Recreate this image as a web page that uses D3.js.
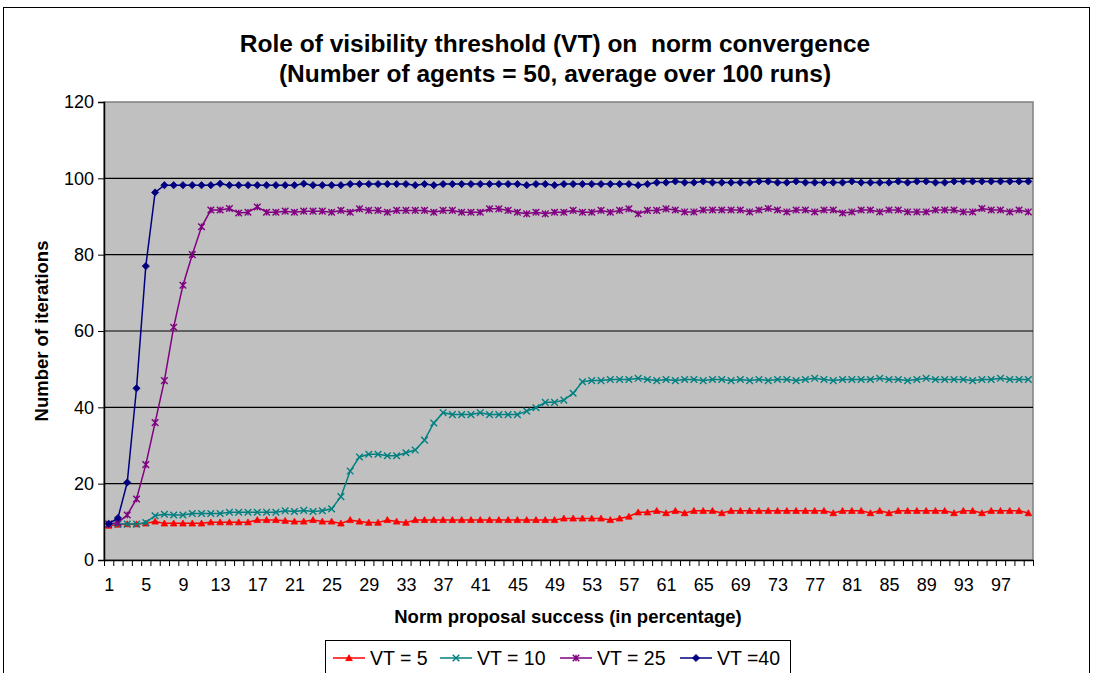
<!DOCTYPE html>
<html>
<head>
<meta charset="utf-8">
<script src="https://cdn.jsdelivr.net/npm/d3@7"></script>
<style>
  body { margin: 0; background: #fff; }
  svg { display: block; font-family: Arial, "Liberation Sans", sans-serif; }
  .title { white-space: pre; }
</style>
</head>
<body>
<svg id="chart" width="1093" height="673"></svg>
<script>
var categories = [1,2,3,4,5,6,7,8,9,10,11,12,13,14,15,16,17,18,19,20,21,22,23,24,25,26,27,28,29,30,
  31,32,33,34,35,36,37,38,39,40,41,42,43,44,45,46,47,48,49,50,51,52,53,54,55,56,57,58,59,60,
  61,62,63,64,65,66,67,68,69,70,71,72,73,74,75,76,77,78,79,80,81,82,83,84,85,86,87,88,89,90,
  91,92,93,94,95,96,97,98,99,100];

var vt5 = [9.0,9.3,9.4,9.4,9.6,10.1,9.6,9.6,9.6,9.6, 9.6,9.9,9.9,9.9,9.9,9.9,10.5,10.5,10.5,10.3,
  10.1,10.1,10.5,10.1,10.1,9.6,10.5,10.1,9.8,9.8, 10.5,10.1,9.8,10.5,10.5,10.5,10.5,10.5,10.5,10.5,
  10.5,10.5,10.5,10.5,10.5,10.5,10.5,10.5,10.5,10.9, 10.9,10.9,10.9,10.9,10.5,10.9,11.4,12.5,12.5,12.9,
  12.3,12.9,12.3,12.9,12.9,12.9,12.3,12.9,12.9,12.9, 12.9,12.9,12.9,12.9,12.9,12.9,12.9,12.9,12.3,12.9,
  12.9,12.9,12.3,12.9,12.3,12.9,12.9,12.9,12.9,12.9, 12.9,12.3,12.9,12.9,12.3,12.9,12.9,12.9,12.9,12.3];

var vt10 = [9.4,9.4,9.4,9.4,9.8,11.6,12.0,11.8,11.8,12.2, 12.2,12.2,12.2,12.5,12.5,12.5,12.5,12.5,12.5,12.9,
  12.7,13.0,12.7,12.9,13.4,16.6,23.3,27.0,27.7,27.7, 27.3,27.3,28.1,28.8,31.4,35.9,38.6,38.1,38.1,38.1,
  38.6,38.1,38.1,38.1,38.1,39.0,39.9,41.3,41.3,41.9, 43.7,46.7,47.0,47.0,47.3,47.3,47.3,47.6,47.3,47.0,
  47.3,47.0,47.3,47.3,47.0,47.3,47.3,47.0,47.3,47.0, 47.3,47.0,47.3,47.3,47.0,47.3,47.6,47.3,47.0,47.3,
  47.3,47.3,47.3,47.6,47.3,47.3,47.0,47.3,47.6,47.3, 47.3,47.3,47.3,47.0,47.3,47.3,47.6,47.3,47.3,47.3];

var vt25 = [9.4,9.8,11.8,16.0,25.0,36.0,47.0,61.0,72.0,80.0, 87.3,91.7,91.7,92.1,90.9,91.1,92.5,91.1,91.1,91.4,
  91.1,91.4,91.4,91.4,91.1,91.6,91.1,92.0,91.6,91.6, 91.1,91.6,91.6,91.6,91.6,91.1,91.6,91.6,91.1,91.1,
  91.1,92.0,92.0,91.6,91.1,90.7,91.1,90.7,91.1,91.1, 91.6,91.1,91.1,91.6,91.1,91.6,92.0,90.7,91.6,91.6,
  92.0,91.7,91.2,91.2,91.7,91.7,91.7,91.7,91.7,91.2, 91.7,92.1,91.7,91.2,91.7,91.7,91.2,91.7,91.7,90.9,
  91.2,91.7,91.7,91.2,91.7,91.7,91.2,91.2,91.2,91.7, 91.7,91.7,91.2,91.2,92.1,91.7,91.7,91.2,91.7,91.2];

var vt40 = [9.5,11.0,20.3,45.0,77.0,96.3,98.2,98.2,98.2,98.2, 98.2,98.2,98.6,98.2,98.2,98.2,98.2,98.2,98.2,98.2,
  98.2,98.6,98.2,98.2,98.2,98.2,98.5,98.5,98.5,98.5, 98.5,98.5,98.5,98.2,98.5,98.2,98.5,98.5,98.5,98.5,
  98.5,98.5,98.5,98.5,98.5,98.2,98.5,98.5,98.2,98.5, 98.5,98.5,98.5,98.5,98.5,98.5,98.5,98.2,98.5,98.9,
  98.9,99.2,98.9,98.9,99.2,98.9,98.9,98.9,98.9,98.9, 99.2,99.2,98.9,98.9,99.2,98.9,98.9,98.9,98.9,98.9,
  99.2,98.9,98.9,98.9,98.9,99.2,98.9,99.2,99.2,98.9, 98.9,99.2,99.2,99.2,99.2,99.2,99.2,99.2,99.2,99.2];

var yTicks = [0, 20, 40, 60, 80, 100, 120];
var seriesNames = ["VT = 5", "VT = 10", "VT = 25", "VT =40"];
var titleLines = ["Role of visibility threshold (VT) on  norm convergence",
                  "(Number of agents = 50, average over 100 runs)"];

var series = [
  { name: seriesNames[0], values: vt5, color: "#FF0000", marker: "triangle" },
  { name: seriesNames[1], values: vt10, color: "#008080", marker: "cross" },
  { name: seriesNames[2], values: vt25, color: "#800080", marker: "star" },
  { name: seriesNames[3], values: vt40, color: "#000080", marker: "diamond" }
];

var plot = { left: 104, right: 1033, top: 102, bottom: 560 };
var svg = d3.select("#chart");

// outer chart frame
svg.append("rect")
  .attr("x", 3.5).attr("y", 7.5)
  .attr("width", 1086).attr("height", 680)
  .attr("fill", "#fff").attr("stroke", "#000").attr("stroke-width", 1);

var x = d3.scaleLinear().domain([0.5, 100.5]).range([plot.left, plot.right]);
var y = d3.scaleLinear().domain([0, 120]).range([plot.bottom, plot.top]);

// plot area
svg.append("rect")
  .attr("x", plot.left).attr("y", plot.top)
  .attr("width", plot.right - plot.left).attr("height", plot.bottom - plot.top)
  .attr("fill", "#C0C0C0").attr("stroke", "#808080").attr("stroke-width", 1.5);

svg.append("g").selectAll("line")
  .data(yTicks.filter(function (d) { return d > 0 && d < 120; }))
  .enter().append("line")
  .attr("x1", plot.left).attr("x2", plot.right)
  .attr("y1", function (d) { return y(d); }).attr("y2", function (d) { return y(d); })
  .attr("stroke", "#000").attr("stroke-width", 1.2);

// axes
var yAxis = svg.append("g")
  .attr("transform", "translate(" + plot.left + ",0)")
  .call(d3.axisLeft(y).tickValues(yTicks).tickSize(6).tickPadding(4));
yAxis.selectAll("text").attr("font-size", "18px").attr("fill", "#000");

var xTicks = svg.append("g")
  .attr("transform", "translate(0," + plot.bottom + ")")
  .call(d3.axisBottom(x).tickValues(d3.range(0.5, 101, 1)).tickSize(6).tickFormat(""));
xTicks.select(".domain").remove();

var xLabels = svg.append("g")
  .attr("transform", "translate(0," + plot.bottom + ")")
  .call(d3.axisBottom(x).tickValues(categories.filter(function (d, i) { return i % 4 === 0; }))
    .tickSize(0).tickPadding(18));
xLabels.select(".domain").attr("stroke", "#000").attr("stroke-width", 1.5);
xLabels.selectAll("text").attr("font-size", "18px").attr("fill", "#000");
yAxis.select(".domain").attr("stroke", "#000").attr("stroke-width", 1.5);
svg.selectAll(".tick line").attr("stroke", "#000");

// series
var line = d3.line()
  .x(function (d, i) { return x(categories[i]); })
  .y(function (d) { return y(d); });

function markerPath(type, s) {
  if (type === "triangle") return "M0," + (-s) + "L" + s + "," + (s * 0.8) + "L" + (-s) + "," + (s * 0.8) + "Z";
  if (type === "diamond") return "M0," + (-s) + "L" + s + ",0L0," + s + "L" + (-s) + ",0Z";
  if (type === "cross") return "M" + (-s) + "," + (-s) + "L" + s + "," + s + "M" + (-s) + "," + s + "L" + s + "," + (-s);
  return "M" + (-s) + "," + (-s) + "L" + s + "," + s + "M" + (-s) + "," + s + "L" + s + "," + (-s) +
    "M0," + (-s) + "L0," + s;
}

function drawMarker(g, type, color) {
  var filled = (type === "triangle" || type === "diamond");
  g.append("path")
    .attr("d", markerPath(type, type === "diamond" ? 3.6 : 3.3))
    .attr("fill", filled ? color : "none")
    .attr("stroke", color)
    .attr("stroke-width", filled ? 0.8 : 1.4);
}

series.forEach(function (s) {
  var g = svg.append("g");
  g.append("path")
    .datum(s.values)
    .attr("d", line)
    .attr("fill", "none")
    .attr("stroke", s.color)
    .attr("stroke-width", 1.5);
  g.selectAll(".pt")
    .data(s.values)
    .enter().append("g")
    .attr("class", "pt")
    .attr("transform", function (d, i) { return "translate(" + x(categories[i]) + "," + y(d) + ")"; })
    .each(function () { drawMarker(d3.select(this), s.marker, s.color); });
});

// titles
svg.append("text")
  .attr("class", "title")
  .attr("x", 555).attr("text-anchor", "middle")
  .attr("font-size", "24.5px").attr("font-weight", "bold")
  .selectAll("tspan").data(titleLines).enter().append("tspan")
  .attr("x", 555)
  .attr("y", function (d, i) { return 52 + i * 30; })
  .text(function (d) { return d; });

svg.append("text")
  .attr("x", 568).attr("y", 623)
  .attr("text-anchor", "middle")
  .attr("font-size", "18.5px").attr("font-weight", "bold")
  .text("Norm proposal success (in percentage)");

svg.append("text")
  .attr("transform", "translate(48,331) rotate(-90)")
  .attr("text-anchor", "middle")
  .attr("font-size", "18.5px").attr("font-weight", "bold")
  .text("Number of iterations");

// legend
var legend = svg.append("g");
legend.append("rect")
  .attr("x", 325.5).attr("y", 640.5)
  .attr("width", 465).attr("height", 40)
  .attr("fill", "#fff").attr("stroke", "#000").attr("stroke-width", 1);

var legendX = [333, 440, 560, 680];
series.forEach(function (s, i) {
  var g = legend.append("g").attr("transform", "translate(" + legendX[i] + ",658)");
  g.append("line").attr("x1", 0).attr("x2", 32).attr("stroke", s.color).attr("stroke-width", 1.5);
  drawMarker(g.append("g").attr("transform", "translate(16,0)"), s.marker, s.color);
  g.append("text")
    .attr("x", 37).attr("y", 6.5)
    .attr("font-size", "19.5px")
    .text(s.name);
});
</script>
</body>
</html>
